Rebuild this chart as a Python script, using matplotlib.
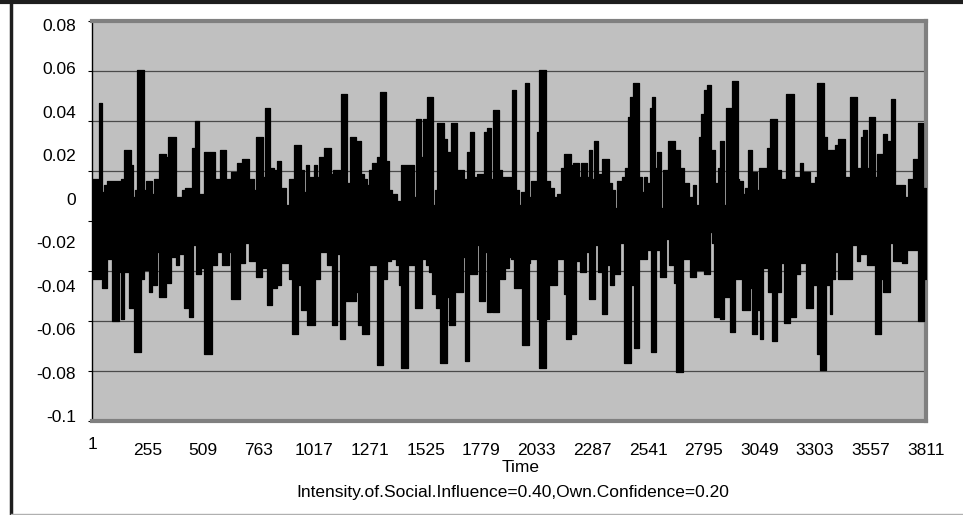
import numpy as np
import matplotlib.pyplot as plt
from matplotlib.lines import Line2D
from matplotlib.transforms import ScaledTranslation

# 1. Data: (time, value) where the line's top / bottom changes
upper = [
    (1, 0.009), (33, 0.043), (48, 0.003), (56, 0.006), (71, 0.008), (132, 0.009), (147, 0.022),
    (177, 0.015), (188, 0.001), (197, 0.004), (208, 0.058), (238, 0.004), (246, 0.008), (276, 0.002),
    (284, 0.009), (307, 0.020), (337, 0.019), (348, 0.028), (386, 0.001), (410, 0.004), (428, 0.005),
    (459, 0.023), (471, 0.035), (489, 0.002), (512, 0.021), (565, 0.009), (588, 0.022), (614, 0.009),
    (638, 0.012), (664, 0.016), (687, 0.018), (717, 0.009), (740, 0.004), (751, 0.028), (781, 0.010),
    (790, 0.041), (816, 0.014), (831, 0.013), (847, 0.017), (866, 0.005), (885, -0.003), (900, 0.009),
    (923, 0.024), (955, 0.013), (970, 0.003), (978, 0.015), (993, 0.010), (1013, 0.015), (1031, 0.010),
    (1038, 0.019), (1061, 0.023), (1095, 0.011), (1104, 0.013), (1134, -0.004), (1140, 0.047),
    (1168, 0.007), (1180, 0.028), (1206, 0.026), (1232, 0.011), (1244, 0.009), (1259, 0.006),
    (1267, 0.013), (1282, 0.016), (1305, 0.019), (1315, 0.048), (1343, 0.017), (1358, 0.004),
    (1373, 0.002), (1396, -0.001), (1411, 0.015), (1472, 0.001), (1479, 0.036), (1505, 0.019),
    (1514, 0.036), (1530, 0.046), (1559, -0.003), (1568, 0.004), (1578, 0.034), (1609, 0.027),
    (1624, 0.021), (1639, 0.034), (1670, 0.013), (1700, 0.009), (1715, 0.021), (1730, 0.030),
    (1746, 0.010), (1761, 0.011), (1791, 0.030), (1806, 0.032), (1822, 0.009), (1834, 0.040),
    (1860, 0.013), (1875, 0.010), (1913, 0.004), (1921, 0.049), (1936, 0.004), (1951, -0.003),
    (1959, 0.003), (1981, 0.052), (1997, 0.001), (2007, 0.008), (2032, 0.030), (2045, 0.058),
    (2073, 0.008), (2095, 0.005), (2111, 0.001), (2126, 0.002), (2144, 0.014), (2159, 0.020),
    (2187, 0.015), (2197, 0.016), (2225, 0.010), (2235, 0.016), (2263, 0.010), (2270, 0.022),
    (2286, 0.009), (2296, 0.026), (2311, 0.011), (2331, 0.018), (2362, 0.007), (2377, 0.004),
    (2392, -0.004), (2400, 0.008), (2422, 0.010), (2438, 0.014), (2448, 0.037), (2460, 0.046),
    (2473, 0.052), (2498, 0.010), (2514, 0.003), (2521, 0.010), (2537, 0.007), (2549, 0.041),
    (2561, 0.046), (2575, 0.014), (2582, 0.021), (2600, -0.004), (2608, 0.013), (2631, 0.026),
    (2663, 0.004), (2670, 0.022), (2689, 0.014), (2704, 0.007), (2727, -0.003), (2734, 0.001),
    (2746, 0.006), (2762, -0.003), (2772, 0.028), (2783, 0.038), (2795, 0.049), (2810, 0.051),
    (2829, 0.022), (2848, 0.007), (2859, 0.014), (2871, 0.026), (2889, -0.003), (2898, 0.041),
    (2924, 0.053), (2950, 0.009), (2959, 0.008), (2977, 0.002), (2985, 0.005), (2996, 0.022),
    (3015, 0.012), (3041, 0.004), (3050, 0.014), (3084, 0.023), (3099, 0.036), (3130, 0.013),
    (3148, 0.009), (3172, 0.047), (3206, 0.010), (3236, 0.016), (3251, 0.012), (3279, 0.007),
    (3304, 0.010), (3312, 0.052), (3343, 0.028), (3358, -0.001), (3365, 0.022), (3396, 0.024),
    (3411, 0.027), (3441, 0.010), (3457, -0.001), (3464, 0.046), (3495, 0.014), (3513, 0.028),
    (3525, 0.031), (3543, 0.014), (3552, 0.037), (3578, 0.010), (3589, 0.020), (3613, 0.029),
    (3631, 0.006), (3639, 0.026), (3650, 0.045), (3670, 0.006), (3715, 0.001), (3730, 0.009),
    (3753, 0.018), (3776, 0.034), (3796, 0.005),
]

lower = [
    (1, -0.036), (41, -0.024), (48, -0.040), (71, -0.027), (94, -0.055), (124, -0.033), (132, -0.054),
    (147, -0.033), (170, -0.049), (193, -0.069), (223, -0.036), (238, -0.032), (261, -0.042),
    (276, -0.039), (299, -0.024), (307, -0.044), (337, -0.030), (345, -0.038), (360, -0.026),
    (383, -0.030), (398, -0.025), (421, -0.049), (444, -0.053), (462, -0.021), (474, -0.034),
    (497, -0.031), (512, -0.070), (550, -0.030), (573, -0.024), (593, -0.030), (626, -0.024),
    (638, -0.045), (675, -0.029), (702, -0.020), (717, -0.028), (748, -0.035), (778, -0.031),
    (801, -0.048), (824, -0.040), (847, -0.039), (866, -0.029), (900, -0.036), (915, -0.061),
    (943, -0.039), (955, -0.050), (985, -0.057), (1019, -0.036), (1043, -0.024), (1076, -0.030),
    (1099, -0.057), (1119, -0.025), (1134, -0.063), (1155, -0.046), (1206, -0.042), (1216, -0.057),
    (1236, -0.061), (1266, -0.030), (1301, -0.075), (1332, -0.036), (1347, -0.028), (1365, -0.027),
    (1388, -0.030), (1403, -0.039), (1414, -0.076), (1444, -0.030), (1476, -0.049), (1510, -0.027),
    (1525, -0.030), (1540, -0.033), (1555, -0.043), (1571, -0.049), (1590, -0.074), (1621, -0.044),
    (1632, -0.057), (1659, -0.024), (1665, -0.042), (1697, -0.026), (1703, -0.073), (1723, -0.021),
    (1730, -0.034), (1758, -0.021), (1768, -0.046), (1796, -0.024), (1806, -0.051), (1822, -0.027),
    (1829, -0.051), (1860, -0.024), (1867, -0.036), (1886, -0.031), (1905, -0.026), (1913, -0.027),
    (1931, -0.040), (1959, -0.036), (1966, -0.066), (1997, -0.029), (2004, -0.027), (2035, -0.054),
    (2045, -0.076), (2073, -0.054), (2088, -0.030), (2095, -0.039), (2123, -0.027), (2156, -0.043),
    (2168, -0.063), (2187, -0.061), (2213, -0.028), (2232, -0.033), (2260, -0.024), (2270, -0.045),
    (2301, -0.021), (2311, -0.033), (2331, -0.052), (2354, -0.030), (2369, -0.039), (2387, -0.034),
    (2415, -0.020), (2430, -0.074), (2464, -0.039), (2479, -0.067), (2498, -0.027), (2537, -0.023),
    (2555, -0.069), (2578, -0.023), (2597, -0.035), (2625, -0.018), (2635, -0.030), (2658, -0.038),
    (2670, -0.078), (2701, -0.027), (2734, -0.035), (2762, -0.032), (2795, -0.034), (2826, -0.015),
    (2833, -0.020), (2844, -0.053), (2871, -0.054), (2886, -0.044), (2914, -0.060), (2939, -0.036),
    (2970, -0.050), (3005, -0.040), (3015, -0.061), (3041, -0.050), (3054, -0.063), (3066, -0.031),
    (3087, -0.042), (3107, -0.064), (3130, -0.042), (3148, -0.029), (3163, -0.056), (3190, -0.053),
    (3218, -0.034), (3236, -0.029), (3263, -0.049), (3294, -0.039), (3312, -0.070), (3327, -0.077),
    (3355, -0.039), (3373, -0.052), (3381, -0.036), (3396, -0.024), (3411, -0.036), (3472, -0.021),
    (3495, -0.028), (3510, -0.025), (3540, -0.030), (3578, -0.061), (3604, -0.036), (3616, -0.042),
    (3647, -0.020), (3662, -0.028), (3700, -0.029), (3723, -0.023), (3776, -0.055), (3802, -0.036),
]

t_end = 3811
x_ticks = [1, 255, 509, 763, 1017, 1271, 1525, 1779, 2033, 2287, 2541, 2795, 3049, 3303, 3557, 3811]
y_labels = ['0.08', '0.06', '0.04', '0.02', '0', '-0.02', '-0.04', '-0.06', '-0.08', '-0.1']
y_min, y_max = -0.1, 0.08
subtitle = 'Intensity.of.Social.Influence=0.40,Own.Confidence=0.20'

plt.rcParams['font.family'] = ['Liberation Sans', 'DejaVu Sans']
fs = 12.5

up_t, up_v = zip(*upper)
lo_t, lo_v = zip(*lower)
up_t = list(up_t) + [t_end]
up_v = list(up_v) + [up_v[-1]]
lo_t = list(lo_t) + [t_end]
lo_v = list(lo_v) + [lo_v[-1]]
mid = -0.009  # inside the band the line always covers

# 2. Figure
fig = plt.figure(figsize=(9.63, 5.15), dpi=100)
ax = fig.add_axes([92 / 963, 94 / 515, 834 / 963, 400 / 515])
ax.set_facecolor('#c0c0c0')

ax.fill_between(up_t, mid, up_v, step='post', color='black', linewidth=0.9, zorder=3)
ax.fill_between(lo_t, lo_v, mid, step='post', color='black', linewidth=0.9, zorder=3)

ax.set_xlim(1, t_end)
ax.set_ylim(y_min, y_max)

# gridlines (8 intervals), labels sit on their own even spacing like the original
ax.set_yticks(np.linspace(y_min, y_max, 9))
ax.set_yticklabels([])
ax.grid(axis='y', color='#4a4a4a', linewidth=0.9, zorder=1)
ax.tick_params(axis='y', which='major', direction='out', length=3, width=0.8, color='black')

lab_pos = np.linspace(y_min + 0.0125 * 0.18, y_min + 0.99 * 0.18, len(y_labels))[::-1]
ax.set_yticks(lab_pos, minor=True)
ax.set_yticklabels(y_labels, minor=True, fontsize=fs)
ax.tick_params(axis='y', which='minor', length=0, pad=11.5)

ax.set_xticks(x_ticks)
ax.set_xticklabels([str(v) for v in x_ticks], fontsize=fs)
ax.tick_params(axis='x', length=0, pad=16)
first = ax.get_xticklabels()[0]
first.set_transform(first.get_transform() + ScaledTranslation(0, 6 / 100, fig.dpi_scale_trans))

for side in ['top', 'right', 'bottom']:
    ax.spines[side].set_color('#808080')
    ax.spines[side].set_linewidth(3)
ax.spines['left'].set_color('black')
ax.spines['left'].set_linewidth(1)

fig.text(521 / 963, 1 - 467 / 515, 'Time', ha='center', va='center', fontsize=fs)
fig.text(513 / 963, 1 - 493 / 515, subtitle, ha='center', va='center', fontsize=fs)

# chart-area frame lines
fig.add_artist(Line2D([0, 1], [1 - 2 / 515, 1 - 2 / 515], color='#1e1e1e', linewidth=3))
fig.add_artist(Line2D([11 / 963, 11 / 963], [0, 1], color='#1e1e1e', linewidth=2.5))
fig.add_artist(Line2D([11 / 963, 1], [1.5 / 515, 1.5 / 515], color='#b0b0b0', linewidth=1))

fig.savefig('out.png', dpi=100)
